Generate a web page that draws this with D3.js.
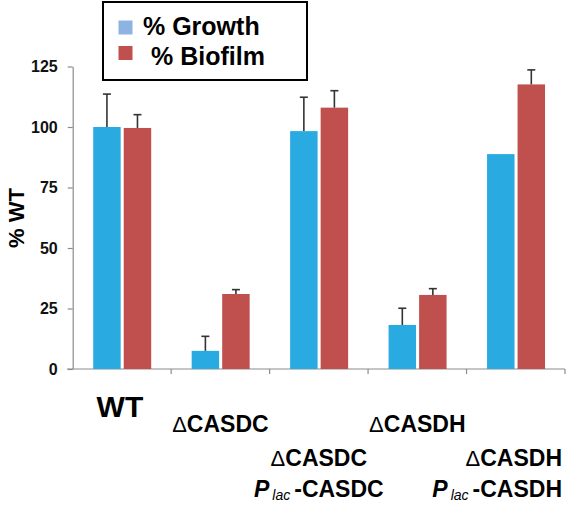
<!DOCTYPE html>
<html><head><meta charset="utf-8">
<script src="https://cdn.jsdelivr.net/npm/d3@7"></script>
<style>body{margin:0;background:#fff}svg{display:block;font-family:"Liberation Sans",Arial,sans-serif}</style>
</head><body><svg id="c" width="566" height="521"></svg>
<script>
const categories = ["WT","ΔCASDC","ΔCASDC|Plac-CASDC","ΔCASDH","ΔCASDH|Plac-CASDH"];
const series = ["% Growth","% Biofilm"];
const growth = [100, 7.5, 98.3, 18.2, 88.8];
const growthErr = [13.6, 6.0, 14.0, 6.9, 0];
const biofilm = [99.6, 31.0, 108.0, 30.6, 117.6];
const biofilmErr = [5.5, 1.8, 7.0, 2.6, 6.0];
const yTicks = [0, 25, 50, 75, 100, 125];
const barColors = ["#29abe2", "#c0504d"];
const legendColors = ["#8db3e2", "#c0504d"];

const W = 566;
const svg = d3.select("#c");
const y = d3.scaleLinear().domain([0,125]).range([369, 66.5]);
const x = d3.scaleBand().domain(categories).range([72.7, 565]).padding(0);
const xs = d3.scaleBand().domain(series).range([20.5, 78.5]).paddingInner(0.1);

// y axis
const yAxis = svg.append("g").attr("transform","translate(72.7,0)")
  .call(d3.axisLeft(y).tickValues(yTicks).tickSize(5).tickPadding(10).tickSizeOuter(0));
yAxis.select(".domain").attr("stroke","#8c8c8c").attr("stroke-width",1.2);
yAxis.selectAll(".tick line").attr("stroke","#8c8c8c").attr("stroke-width",1.2);
yAxis.selectAll(".tick text").attr("font-size",16).attr("font-weight","bold").attr("fill","#111")
  .attr("font-family","Liberation Sans, Arial, sans-serif");

// x axis line with boundary ticks
const xg = svg.append("g");
xg.append("line").attr("x1",67).attr("x2",x.range()[1]).attr("y1",y(0)).attr("y2",y(0))
  .attr("stroke","#8c8c8c").attr("stroke-width",1.2);
const bounds = categories.map(c => x(c)).concat([x.range()[1]]).slice(1);
xg.selectAll("line.t").data(bounds).enter().append("line")
  .attr("x1",d=>d).attr("x2",d=>d).attr("y1",y(0)).attr("y2",y(0)+5)
  .attr("stroke","#8c8c8c").attr("stroke-width",1.2);

// bars
const data = [];
categories.forEach((c,i)=>{
  data.push({c, s:series[0], v:growth[i], e:growthErr[i], col:barColors[0]});
  data.push({c, s:series[1], v:biofilm[i], e:biofilmErr[i], col:barColors[1]});
});
svg.append("g").selectAll("rect").data(data).enter().append("rect")
  .attr("x",d=>x(d.c)+xs(d.s)).attr("width",xs.bandwidth())
  .attr("y",d=>y(d.v)).attr("height",d=>y(0)-y(d.v))
  .attr("fill",d=>d.col);

// error bars
const eg = svg.append("g").attr("stroke","#333").attr("stroke-width",1.6);
data.filter(d=>d.e>0).forEach(d=>{
  const cx = x(d.c)+xs(d.s)+xs.bandwidth()/2;
  eg.append("line").attr("x1",cx).attr("x2",cx).attr("y1",y(d.v)).attr("y2",y(d.v+d.e));
  eg.append("line").attr("x1",cx-4).attr("x2",cx+4).attr("y1",y(d.v+d.e)).attr("y2",y(d.v+d.e));
});

// y label
svg.append("text").attr("transform","translate(24,218) rotate(-90)")
  .attr("text-anchor","middle").attr("font-size",22).attr("font-weight","bold").text("% WT");

// x labels (horizontal, staggered; styled segments as separate texts)
const FS = 23;
function segments(str){
  if(str.startsWith("Δ")) return [{t:"Δ", w:"normal", s:FS-1}, {t:str.slice(1), w:"bold", s:FS}];
  if(str.startsWith("Plac")) return [
    {t:"P", w:"bold", s:FS, it:true},
    {t:"lac", w:"normal", s:14, it:true, pre:3, post:4, dy:3},
    {t:str.slice(4), w:"bold", s:FS}];
  return [{t:str, w:"bold", s:FS}];
}
const lg = svg.append("g").attr("fill","#000");
categories.forEach(c=>{
  const cx = x(c)+x.bandwidth()/2;
  const lines = c.split("|");
  if(c==="WT"){
    lg.append("text").attr("x",cx-2).attr("y",417).attr("text-anchor","middle")
      .attr("font-size",30).attr("font-weight","bold").text(c);
    return;
  }
  const y0 = lines.length===1 ? 432 : 466;
  lines.forEach((l,i)=>{
    const yy = y0 + i*31;
    const segs = segments(l);
    let pos = 0;
    const els = segs.map(s=>{
      pos += s.pre||0;
      const el = lg.append("text").attr("y",yy+(s.dy||0))
        .attr("font-size",s.s).attr("font-weight",s.w)
        .attr("font-style",s.it?"italic":"normal").text(s.t);
      const w = el.node().getComputedTextLength();
      const start = pos;
      pos += w + (s.post||0);
      return {el, start};
    });
    const total = pos;
    const left = Math.min(cx - total/2, W - 4 - total);
    els.forEach(e=>e.el.attr("x", left + e.start));
  });
});

// legend
const leg = svg.append("g");
leg.append("rect").attr("x",103).attr("y",2).attr("width",204).attr("height",78)
  .attr("fill","#fff").attr("stroke","#000").attr("stroke-width",2);
series.forEach((s,i)=>{
  leg.append("rect").attr("x",118.5).attr("y",20.5+i*25.5).attr("width",14).attr("height",14).attr("fill",legendColors[i]);
  leg.append("text").attr("x",i===0?143:151).attr("y",35+i*30).attr("font-size",25).attr("font-weight","bold").text(s);
});
</script></body></html>
